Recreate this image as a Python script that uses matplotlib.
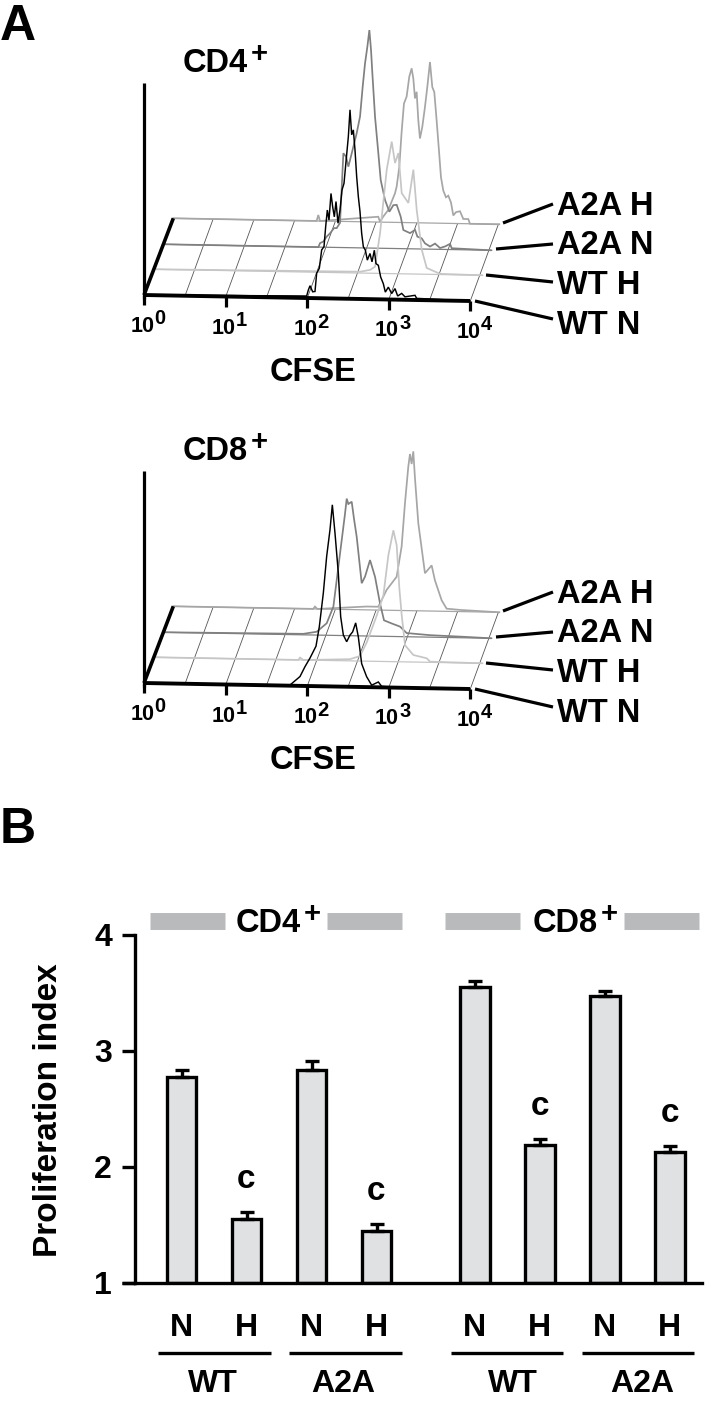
import matplotlib
matplotlib.use("Agg")
import matplotlib.pyplot as plt

plt.rcParams['font.family'] = ['Liberation Sans', 'DejaVu Sans']
plt.rcParams['font.weight'] = 'bold'

# histograms: channel (0-978 = 10^0..10^4), counts (arbitrary)
cd4_wtn_ch = [0, 488, 493, 498, 506, 513, 518, 526, 533, 540, 545, 550, 555, 561, 566, 571, 576, 582, 588, 594, 600, 606, 613, 618, 623, 628, 633, 638, 643, 648, 653, 658, 664, 670, 678, 684, 691, 696, 703, 710, 718, 724, 733, 743, 753, 761, 773, 783, 813, 818, 978]
cd4_wtn_ct = [0, 6, 24, 37, 19, 20, 75, 90, 145, 155, 215, 265, 235, 315, 275, 245, 291, 226, 266, 326, 346, 411, 486, 567, 492, 507, 447, 367, 307, 262, 197, 157, 147, 117, 137, 112, 147, 107, 102, 67, 47, 22, 37, 18, 33, 11, 19, 9, 14, 5, 0]
cd4_wth_ch = [0, 610, 640, 655, 670, 690, 705, 715, 725, 735, 755, 770, 780, 795, 810, 850, 975]
cd4_wth_ct = [0, 4, 10, 20, 120, 311, 396, 332, 362, 242, 213, 313, 193, 74, 19, 2, 0]
cd4_a2n_ch = [0, 458, 463, 473, 483, 493, 505, 513, 523, 533, 541, 548, 558, 573, 583, 591, 598, 605, 611, 616, 620, 628, 638, 645, 658, 671, 683, 693, 705, 713, 733, 748, 755, 768, 778, 793, 808, 823, 838, 853, 858, 975]
cd4_a2n_ct = [0, 0, 12, 17, 32, 42, 58, 58, 74, 283, 273, 243, 283, 344, 394, 484, 554, 604, 654, 594, 524, 394, 284, 205, 145, 110, 130, 131, 96, 56, 47, 57, 37, 32, 17, 8, 17, 4, 9, 17, 4, 0]
cd4_a2h_ch = [0, 430, 435, 440, 615, 620, 630, 645, 655, 665, 670, 678, 685, 692, 700, 708, 715, 720, 725, 730, 735, 740, 747, 755, 762, 770, 777, 783, 790, 797, 803, 810, 818, 825, 833, 840, 848, 860, 870, 885, 890, 978]
cd4_a2h_ct = [0, 0, 18, 0, 16, 1, 17, 37, 62, 87, 107, 167, 272, 357, 378, 438, 463, 433, 373, 393, 308, 253, 288, 348, 408, 483, 408, 393, 308, 218, 138, 98, 78, 83, 63, 24, 34, 37, 14, 14, 0, 0]

cd8_wtn_ch = [0, 438, 468, 483, 498, 516, 526, 538, 548, 558, 565, 573, 583, 590, 598, 608, 618, 626, 635, 643, 653, 668, 683, 703, 713, 760, 978]
cd8_wtn_ct = [0, 2, 28, 58, 84, 120, 179, 280, 390, 470, 545, 460, 340, 210, 155, 135, 155, 165, 192, 150, 70, 31, 6, 16, 3, 0, 0]
cd8_wth_ch = [0, 425, 430, 440, 580, 610, 630, 660, 680, 695, 710, 720, 728, 735, 745, 770, 810, 820, 975]
cd8_wth_ct = [0, 0, 7, 0, 5, 15, 56, 137, 198, 319, 394, 349, 220, 140, 50, 21, 12, 2, 0]
cd8_a2n_ch = [0, 413, 453, 483, 503, 523, 538, 543, 548, 558, 565, 573, 588, 598, 613, 628, 643, 655, 678, 703, 723, 793, 893, 975]
cd8_a2n_ct = [0, 3, 10, 36, 86, 246, 366, 411, 395, 402, 350, 297, 158, 178, 228, 178, 98, 48, 39, 30, 11, 6, 3, 0]
cd8_a2h_ch = [0, 420, 425, 432, 580, 615, 640, 670, 685, 695, 705, 710, 715, 720, 725, 735, 755, 775, 785, 805, 820, 860, 978]
cd8_a2h_ct = [0, 0, 7, 0, 10, 10, 61, 101, 192, 322, 432, 470, 440, 478, 398, 263, 113, 137, 92, 33, 8, 5, 0]

line_names = ['A2A H', 'A2A N', 'WT H', 'WT N']
line_cols = ['#a6a6a6', '#808080', '#c6c6c6', '#000000']
line_wid = [1.25, 1.25, 1.25, 1.05]
decades = ['0', '1', '2', '3', '4']

# bars
bar_pos = [0, 1, 2, 3, 4.51, 5.51, 6.51, 7.51]
bar_vals = [2.78, 1.55, 2.84, 1.445, 3.55, 2.19, 3.47, 2.13]
bar_errs = [0.06, 0.06, 0.07, 0.065, 0.05, 0.05, 0.05, 0.05]
bar_labels = ['N', 'H', 'N', 'H', 'N', 'H', 'N', 'H']
y_ticks = [1, 2, 3, 4]

fig = plt.figure(figsize=(7.2, 14.02), dpi=100)

# whole figure overlay in pixels for the drawn 3D panels and labels
ov = fig.add_axes([0, 0, 1, 1])
ov.set_xlim(0, 720)
ov.set_ylim(1402, 0)
ov.axis('off')


def draw_panel(dy, title, curves):
    # layer start positions, back to front
    starts = [(173.3, 218.3), (165.7, 244.3), (156.7, 269.3), (144, 295)]
    sx = 326 / 978
    sy = 6 / 978
    # gridlines along the depth
    for i in range(1, 9):
        x0 = 144 + i * 40.75
        y0 = 295 + i * 0.75
        ov.plot([x0 + 0.3, x0 + 28.3], [y0 + dy, y0 - 76.5 + dy], color='#555555', lw=0.6, zorder=1)
    for (lx, ly), col in zip(starts, line_cols):
        c = col if col != '#000000' else '#666666'
        ov.plot([lx, lx + 326], [ly + dy, ly + 6 + dy], color=c, lw=0.9, zorder=2)
    # curves
    for (lx, ly), col, w, (ch, ct) in zip(starts, line_cols, line_wid, curves):
        xs = [lx + c * sx for c in ch]
        ys = [ly + dy + c * sy - v / 3 for c, v in zip(ch, ct)]
        ov.plot(xs, ys, color=col, lw=w, zorder=3, solid_joinstyle='miter')
    # axes
    ov.plot([144, 144], [83 + dy, 299 + dy], color='k', lw=2.3, zorder=5, solid_capstyle='butt')
    ov.plot([144, 173.3], [295 + dy, 218.3 + dy], color='k', lw=2.6, zorder=5, solid_capstyle='butt')
    ov.plot([144, 470], [295 + dy, 301 + dy], color='k', lw=2.8, zorder=5, solid_capstyle='butt')
    for i, d in enumerate(decades):
        x = 144 + i * 81.5
        y = 295 + i * 1.5 + dy
        ov.plot([x, x], [y, y + 10], color='k', lw=2.3, zorder=5, solid_capstyle='butt')
        ov.text(x + 10.5, y + 37, '10', fontsize=15.5, ha='right', va='baseline')
        ov.text(x + 10.5, y + 29.5, d, fontsize=14.5, ha='left', va='baseline')
    # leaders and names
    ends = [(503, 223, 553, 204), (496, 249, 553, 244), (486, 275, 553, 282), (475, 301, 553, 319)]
    name_y = [203, 242, 282, 322]
    for (a, b, c, e), name, ny in zip(ends, line_names, name_y):
        ov.plot([a, c], [b + dy, e + dy], color='k', lw=2.3, solid_capstyle='butt')
        ov.text(557, ny + dy, name, fontsize=23.5, ha='left', va='center_baseline')
    ov.text(313, 369 + dy, 'CFSE', fontsize=23.5, ha='center', va='center_baseline')
    ov.text(183, 72 + dy, title, fontsize=23.5, ha='left', va='baseline')
    ov.text(251, 62 + dy, '+', fontsize=21, ha='left', va='baseline')


draw_panel(0, 'CD4', [(cd4_a2h_ch, cd4_a2h_ct), (cd4_a2n_ch, cd4_a2n_ct), (cd4_wth_ch, cd4_wth_ct), (cd4_wtn_ch, cd4_wtn_ct)])
draw_panel(388, 'CD8', [(cd8_a2h_ch, cd8_a2h_ct), (cd8_a2n_ch, cd8_a2n_ct), (cd8_wth_ch, cd8_wth_ct), (cd8_wtn_ch, cd8_wtn_ct)])

ov.text(0, 40, 'A', fontsize=36, ha='left', va='baseline')
ov.text(0, 843, 'B', fontsize=36, ha='left', va='baseline')

# panel B
ax = fig.add_axes([135 / 720, 1 - 1283 / 1402, (702 - 135) / 720, 348 / 1402])
ax.patch.set_alpha(0)
ax.bar(bar_pos, [v - 1 for v in bar_vals], bottom=1, width=0.46, color='#e0e1e3', edgecolor='k', linewidth=2.4)
ax.errorbar(bar_pos, bar_vals, yerr=[[0] * 8, bar_errs], fmt='none', ecolor='k', elinewidth=2.4, capsize=4.7, capthick=2.4)
ax.set_xlim(-46.5 / 65, 520.5 / 65)
ax.set_ylim(1, 4)
ax.set_yticks(y_ticks)
ax.set_xticks([])
for s in ['top', 'right']:
    ax.spines[s].set_visible(False)
ax.spines['left'].set_linewidth(2.4)
ax.spines['bottom'].set_linewidth(2.4)
ax.tick_params(axis='y', length=9.5, width=2.4, labelsize=23, pad=7)
for i in [1, 3, 5, 7]:
    ax.annotate('c', (bar_pos[i], bar_vals[i] + bar_errs[i]), xytext=(0, 26), textcoords='offset points',
                ha='center', va='center_baseline', fontsize=24)
for p, t in zip(bar_pos, bar_labels):
    ax.annotate(t, (p, 1), xytext=(0, -30), textcoords='offset points', ha='center', va='center_baseline', fontsize=23)
ov.plot([122, 135], [1283, 1283], color='k', lw=2.4, solid_capstyle='butt')

ov.text(49, 1110, 'Proliferation index', fontsize=24, rotation=90, ha='center', va='center')

for a, b, name, tx in [(150, 402, 'CD4', 236), (445, 699, 'CD8', 533)]:
    ov.plot([a, a + 75], [920.5, 920.5], color='#b9babc', lw=12.2, solid_capstyle='butt')
    ov.plot([b - 75, b], [920.5, 920.5], color='#b9babc', lw=12.2, solid_capstyle='butt')
    ov.text(tx, 932.5, name, fontsize=23.5, ha='left', va='baseline')
    ov.text(tx + 68, 921.5, '+', fontsize=21, ha='left', va='baseline')

for a, b, name, tx in [(158, 271, 'WT', 213), (289, 402, 'A2A', 343), (451, 563, 'WT', 513), (582, 694, 'A2A', 642)]:
    ov.plot([a, b], [1353, 1353], color='k', lw=2.4, solid_capstyle='butt')
    ov.text(tx, 1381, name, fontsize=23, ha='center', va='center_baseline')

fig.savefig('out.png', dpi=100)
